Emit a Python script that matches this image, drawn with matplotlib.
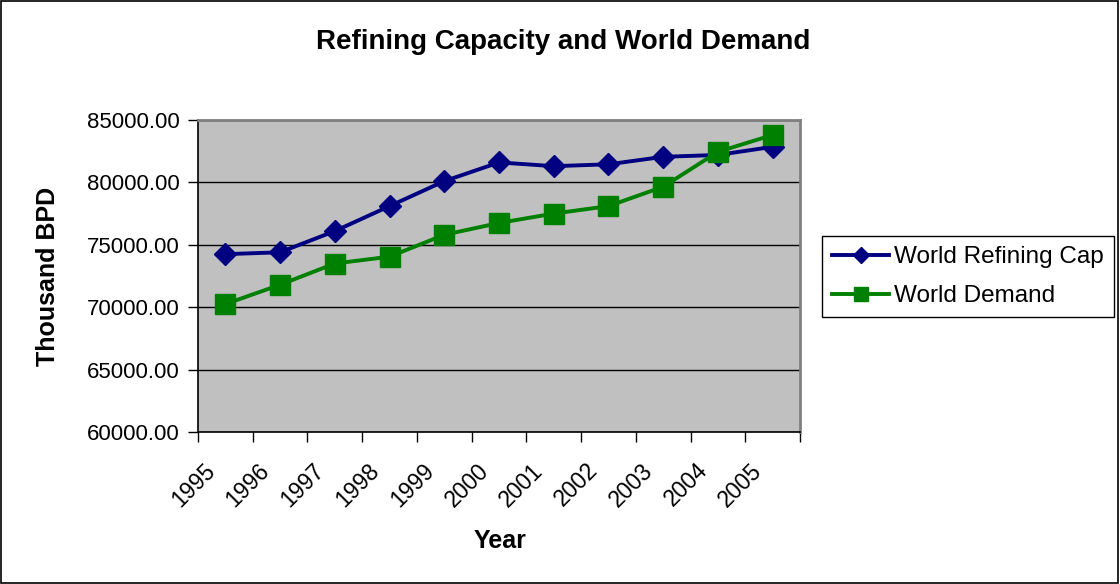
import matplotlib
matplotlib.use("Agg")
import matplotlib.pyplot as plt
from matplotlib.patches import Rectangle
from matplotlib.ticker import FixedLocator, FuncFormatter, NullFormatter

years = ["1995", "1996", "1997", "1998", "1999", "2000", "2001", "2002", "2003", "2004", "2005"]
refining_cap = [74250, 74400, 76100, 78100, 80100, 81600, 81300, 81450, 82050, 82200, 82850]
world_demand = [70250, 71800, 73500, 74050, 75800, 76750, 77500, 78100, 79650, 82450, 83800]
y_ticks = [60000, 65000, 70000, 75000, 80000, 85000]

plt.rcParams['font.family'] = ['Liberation Sans', 'DejaVu Sans']

fig = plt.figure(figsize=(11.2, 5.84), dpi=100)
fig.patch.set_facecolor('white')
fig.add_artist(Rectangle((0.0005, 0.001), 0.998, 0.997, transform=fig.transFigure,
                         fill=False, edgecolor='black', linewidth=1.2))

ax = fig.add_axes([198/1120, 1-432/584, (800-198)/1120, (432-120)/584])
ax.set_facecolor('#C0C0C0')

x = list(range(len(years)))
ax.plot(x, refining_cap, color='#000080', linewidth=2.8, marker='D', markersize=11.5,
        label='World Refining Cap', zorder=3)
ax.plot(x, world_demand, color='#008000', linewidth=2.8, marker='s', markersize=14,
        label='World Demand', zorder=3)

ax.set_xlim(-0.5, len(years) - 0.5)
ax.set_ylim(y_ticks[0], y_ticks[-1])
ax.set_yticks(y_ticks)
ax.yaxis.set_major_formatter(FuncFormatter(lambda v, p: f"{v:.2f}"))
ax.grid(axis='y', color='black', linewidth=1.0)
ax.set_axisbelow(True)

ax.xaxis.set_major_locator(FixedLocator([i - 0.5 for i in range(len(years) + 1)]))
ax.xaxis.set_major_formatter(NullFormatter())
ax.tick_params(axis='x', which='major', length=7, width=1, direction='out', color='black')
ax.tick_params(axis='y', length=7, width=1, direction='out', labelsize=16, pad=6)

xform = ax.get_xaxis_transform()
for i, yr in enumerate(years):
    ax.annotate(yr, xy=(i, 0), xycoords=xform, xytext=(-14, -35), textcoords='offset pixels',
                rotation=45, rotation_mode='anchor', ha='right', va='center',
                fontsize=16.5, annotation_clip=False)

for s in ['top', 'right']:
    ax.spines[s].set_color('#808080')
    ax.spines[s].set_linewidth(2)
for s in ['left', 'bottom']:
    ax.spines[s].set_color('black')
    ax.spines[s].set_linewidth(1.2)

fig.text(563/1120, 1-42/584, 'Refining Capacity and World Demand', ha='center', va='center',
         fontsize=20, fontweight='bold')
fig.text(48/1120, 1-276/584, 'Thousand BPD', ha='center', va='center', rotation=90,
         fontsize=18, fontweight='bold')
fig.text(500/1120, 1-541/584, 'Year', ha='center', va='center', fontsize=18, fontweight='bold')

leg = ax.legend(loc='upper left', bbox_to_anchor=(822/1120, 1-236/584),
                bbox_transform=fig.transFigure, borderaxespad=0, fancybox=False,
                edgecolor='black', framealpha=1, fontsize=17.5, handlelength=2.35,
                handletextpad=0.2, borderpad=0.42, labelspacing=0.7, markerscale=0.72)
leg.get_frame().set_linewidth(1.0)

fig.savefig('out.png', dpi=100, facecolor='white')
